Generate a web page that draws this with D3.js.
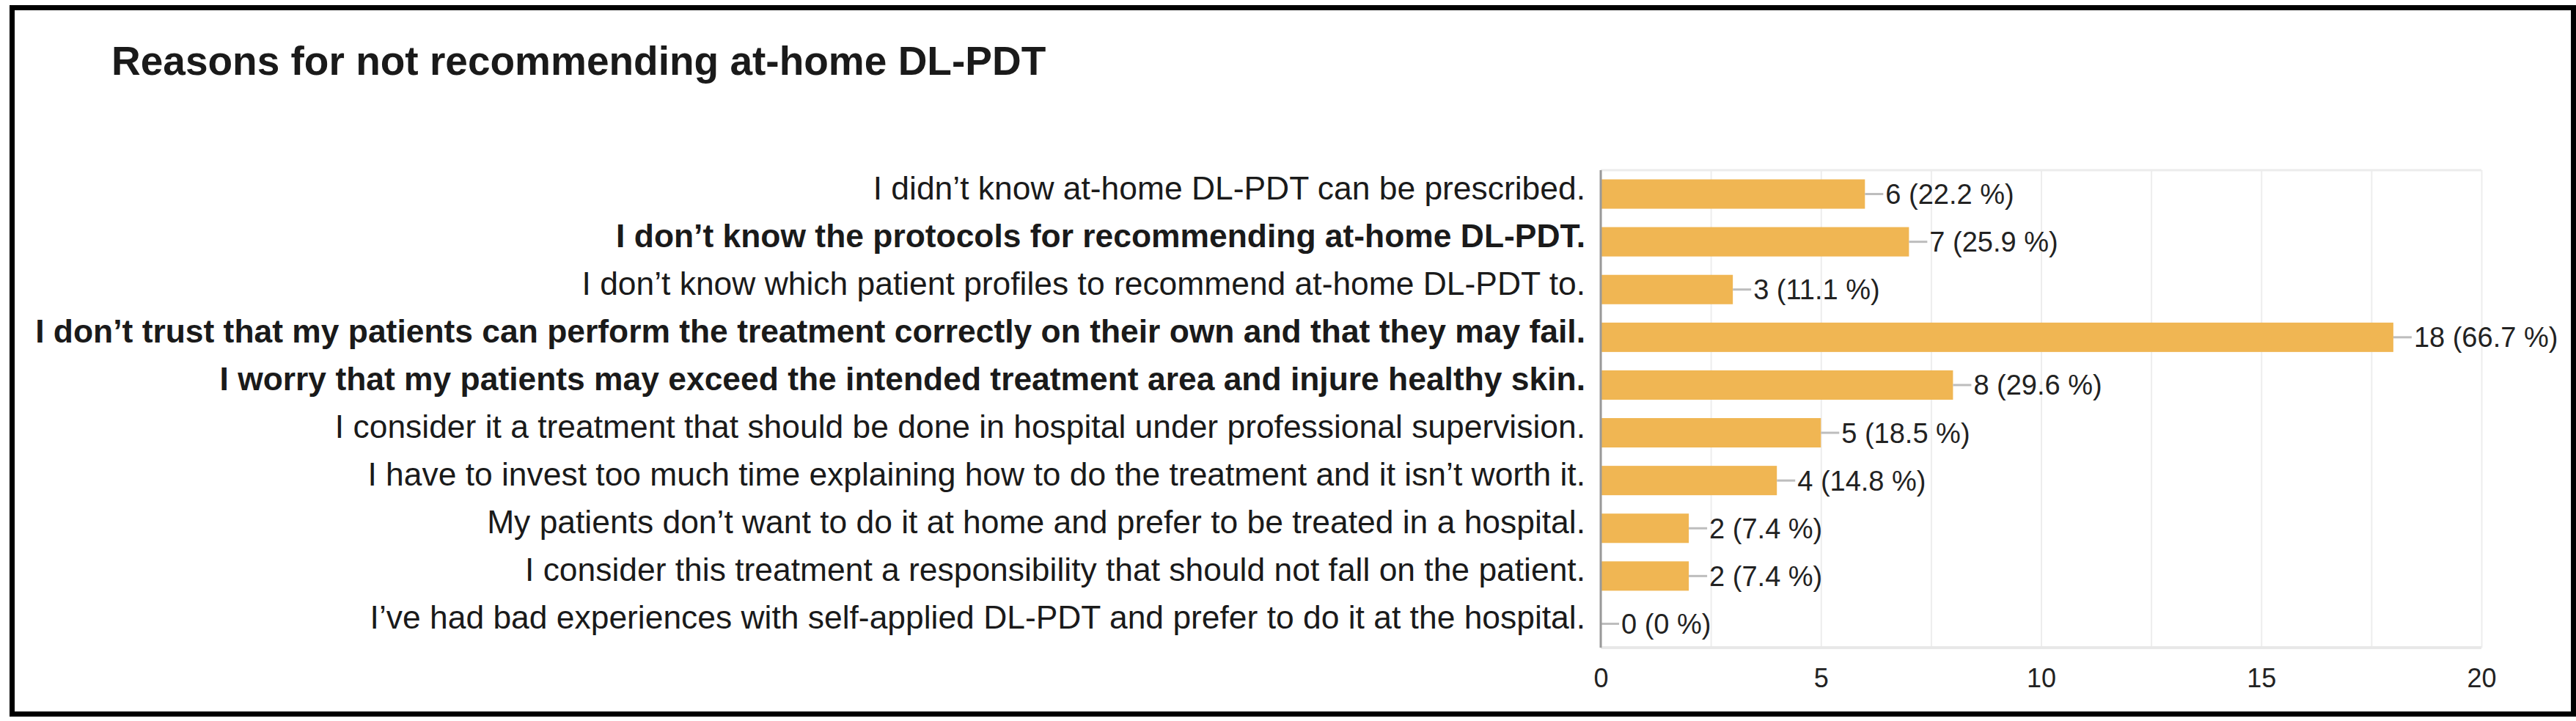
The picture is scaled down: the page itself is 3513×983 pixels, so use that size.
<!DOCTYPE html>
<html>
<head>
<meta charset="utf-8">
<script src="https://cdn.jsdelivr.net/npm/d3@7"></script>
<style>
  html, body { margin: 0; padding: 0; background: #fff; }
  svg { display: block; }
  text { font-family: "Liberation Sans", Arial, Helvetica, sans-serif; }
</style>
</head>
<body>
<svg id="chart" width="3513" height="983"></svg>
<script>
// ---- data ----
const title = "Reasons for not recommending at-home DL-PDT";
const categories = [
  "I didn’t know at-home DL-PDT can be prescribed.",
  "I don’t know the protocols for recommending at-home DL-PDT.",
  "I don’t know which patient profiles to recommend at-home DL-PDT to.",
  "I don’t trust that my patients can perform the treatment correctly on their own and that they may fail.",
  "I worry that my patients may exceed the intended treatment area and injure healthy skin.",
  "I consider it a treatment that should be done in hospital under professional supervision.",
  "I have to invest too much time explaining how to do the treatment and it isn’t worth it.",
  "My patients don’t want to do it at home and prefer to be treated in a hospital.",
  "I consider this treatment a responsibility that should not fall on the patient.",
  "I’ve had bad experiences with self-applied DL-PDT and prefer to do it at the hospital."
];
const counts = [6, 7, 3, 18, 8, 5, 4, 2, 2, 0];
const percents = ["22.2", "25.9", "11.1", "66.7", "29.6", "18.5", "14.8", "7.4", "7.4", "0"];
const boldRows = [false, true, false, true, true, false, false, false, false, false];
const xTickValues = [0, 5, 10, 15, 20];
const xGridValues = [0, 2.5, 5, 7.5, 10, 12.5, 15, 17.5, 20];

// ---- layout ----
const W = 3513, H = 983;
const plot = { left: 2183, right: 3384, top: 232, bottom: 883 };
const svg = d3.select("#chart");

svg.append("rect").attr("x", 0).attr("y", 0).attr("width", W).attr("height", H).attr("fill", "#fff");

// outer frame
svg.append("rect")
  .attr("x", 16.5).attr("y", 10.5).attr("width", 3493).attr("height", 963)
  .attr("fill", "none").attr("stroke", "#000").attr("stroke-width", 7);

// title
svg.append("text")
  .attr("x", 152).attr("y", 102)
  .attr("font-size", 55).attr("font-weight", "bold").attr("fill", "#1a1a1a")
  .text(title);

const x = d3.scaleLinear().domain([0, 20]).range([plot.left, plot.right]);
const y = d3.scaleBand().domain(d3.range(categories.length))
  .range([plot.top, plot.bottom]).paddingInner(0.385).paddingOuter(0.1925);

// gridlines
const grid = svg.append("g").attr("transform", `translate(0,${plot.bottom})`)
  .call(d3.axisBottom(x).tickValues(xGridValues).tickSize(-(plot.bottom - plot.top)).tickFormat(""));
grid.select(".domain").remove();
grid.selectAll(".tick line").attr("stroke", "#ededed").attr("stroke-width", 2);

// plot top/bottom borders
svg.append("line").attr("x1", plot.left).attr("x2", plot.right)
  .attr("y1", plot.top).attr("y2", plot.top).attr("stroke", "#ececec").attr("stroke-width", 3);
svg.append("line").attr("x1", plot.left).attr("x2", plot.right)
  .attr("y1", plot.bottom).attr("y2", plot.bottom).attr("stroke", "#e8e8e8").attr("stroke-width", 4);

// x tick labels
const xAxis = svg.append("g").attr("transform", `translate(0,${plot.bottom})`)
  .call(d3.axisBottom(x).tickValues(xTickValues).tickSize(0).tickPadding(28).tickFormat(d3.format("d")));
xAxis.select(".domain").remove();
xAxis.selectAll(".tick text")
  .attr("font-size", 36).attr("fill", "#222")
  .attr("font-family", "'Liberation Sans', Arial, sans-serif");

// bars
const rows = svg.append("g");
rows.selectAll("rect.bar").data(counts).join("rect")
  .attr("class", "bar")
  .attr("x", x(0))
  .attr("y", (d, i) => y(i))
  .attr("width", d => x(d) - x(0))
  .attr("height", y.bandwidth())
  .attr("fill", "#F0B653");

// connectors
rows.selectAll("line.conn").data(counts).join("line")
  .attr("class", "conn")
  .attr("x1", d => x(d)).attr("x2", d => x(d) + 25)
  .attr("y1", (d, i) => y(i) + y.bandwidth() / 2)
  .attr("y2", (d, i) => y(i) + y.bandwidth() / 2)
  .attr("stroke", "#bdbdbd").attr("stroke-width", 3);

// value labels
rows.selectAll("text.val").data(counts).join("text")
  .attr("class", "val")
  .attr("x", d => x(d) + 28)
  .attr("y", (d, i) => y(i) + y.bandwidth() / 2 + 13.5)
  .attr("font-size", 38).attr("fill", "#222")
  .text((d, i) => `${d} (${percents[i]} %)`);

// left axis line
svg.append("line").attr("x1", plot.left).attr("x2", plot.left)
  .attr("y1", plot.top).attr("y2", plot.bottom)
  .attr("stroke", "#999").attr("stroke-width", 3);

// category labels
rows.selectAll("text.cat").data(categories).join("text")
  .attr("class", "cat")
  .attr("x", 2162)
  .attr("y", (d, i) => y(i) + y.bandwidth() / 2 + 7)
  .attr("text-anchor", "end")
  .attr("font-size", 44.4)
  .attr("font-weight", (d, i) => boldRows[i] ? "bold" : "normal")
  .attr("fill", "#1a1a1a")
  .text(d => d);
</script>
</body>
</html>
